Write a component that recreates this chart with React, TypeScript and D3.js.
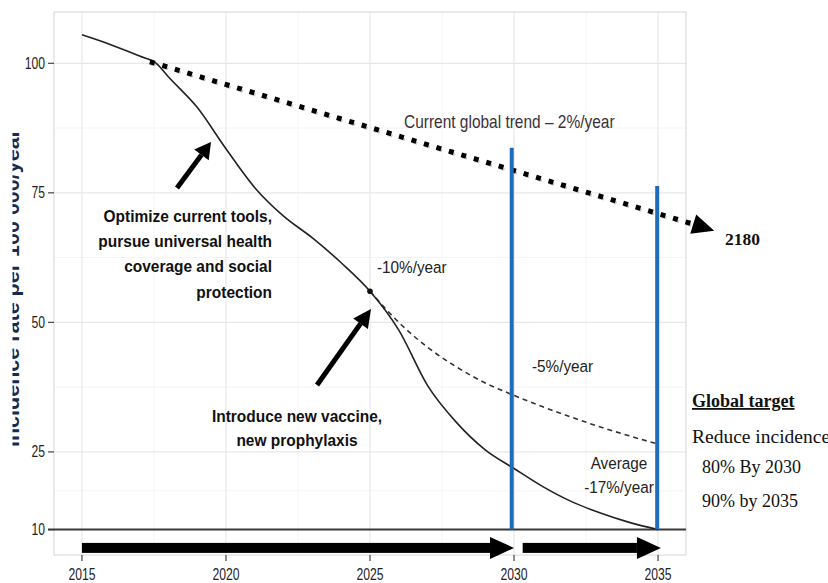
import React from "react";
import * as d3 from "d3";

// ---- data ----
const yTicks = [10, 25, 50, 75, 100];
const yMinor = [17.5, 37.5, 62.5, 87.5];
const xTicks = [2015, 2020, 2025, 2030, 2035];
const xMinor = [2017.5, 2022.5, 2027.5, 2032.5];

const solidYears = [2015, 2016, 2017, 2017.6, 2018, 2019, 2020, 2021, 2022, 2023, 2024, 2025, 2026, 2027, 2028, 2029, 2030, 2031, 2032, 2033, 2034, 2035];
const solidValues = [105.5, 103.6, 101.4, 99.9, 97.4, 91.5, 83.5, 76, 70.5, 66.3, 61.5, 56, 48.5, 37.8, 30.7, 25.4, 21.8, 18.3, 15.4, 13.2, 11.4, 10];

const dashedYears = [2025, 2026, 2027, 2028, 2029, 2030, 2031, 2032, 2033, 2034, 2035];
const dashedValues = [56, 50, 45.2, 41.4, 38.3, 35.9, 33.7, 31.7, 29.8, 28.1, 26.5];

const trendYears = [2017.36, 2036.2];
const trendValues = [100.3, 69.0];
const trendTip = [2036.95, 67.7];

const targetYears = [2029.92, 2034.97];
const targetTops = [83.7, 76.3];

const periodStarts = [2015, 2030.3];
const periodEnds = [2030, 2035.1];

const NARROW = "'Liberation Sans Narrow', 'Liberation Sans', Arial, sans-serif";
const SERIF = "'Liberation Serif', 'DejaVu Serif', serif";

function NText(props: {
  x: number;
  y: number;
  s?: number;
  size: number;
  anchor?: string;
  weight?: string;
  fill?: string;
  children: React.ReactNode;
}) {
  const { x, y, s = 0.9, size, anchor = "start", weight = "normal", fill = "#222", children } = props;
  return (
    <text
      transform={`translate(${x},${y}) scale(${s},1)`}
      textAnchor={anchor}
      fontFamily={NARROW}
      fontWeight={weight}
      fontSize={size}
      fill={fill}
    >
      {children}
    </text>
  );
}

export default function App() {
  const W = 828, H = 583;
  const left = 54, right = 686, top = 12, bottom = 555;
  const x = d3.scaleLinear().domain([2014.03, 2035.97]).range([left, right]);
  const y = d3.scaleLinear().domain([5.1, 109.9]).range([bottom, top]);

  const line = d3
    .line<[number, number]>()
    .x((d) => x(d[0]))
    .y((d) => y(d[1]))
    .curve(d3.curveMonotoneX);

  const solid = solidYears.map((yr, i) => [yr, solidValues[i]] as [number, number]);
  const dashed = dashedYears.map((yr, i) => [yr, dashedValues[i]] as [number, number]);

  // trend line
  const tx1 = x(trendYears[0]), ty1 = y(trendValues[0]);
  const tx2 = x(trendYears[1]), ty2 = y(trendValues[1]);
  const tipX = x(trendTip[0]), tipY = y(trendTip[1]);
  const ang = Math.atan2(tipY - ty2, tipX - tx2);
  const headLen = 22, headW = 10;
  const bx = tipX - headLen * Math.cos(ang), by = tipY - headLen * Math.sin(ang);
  const px = -Math.sin(ang) * headW, py = Math.cos(ang) * headW;

  const arrowPath = (x1: number, y1: number, x2: number, y2: number, hl: number, hw: number) => {
    const a = Math.atan2(y2 - y1, x2 - x1);
    const bx2 = x2 - hl * Math.cos(a), by2 = y2 - hl * Math.sin(a);
    const nx = -Math.sin(a) * hw, ny = Math.cos(a) * hw;
    return { bx: bx2, by: by2, head: `M${x2},${y2}L${bx2 + nx},${by2 + ny}L${bx2 - nx},${by2 - ny}Z` };
  };

  const annot1 = arrowPath(177, 188, 211, 142, 16, 9);
  const annot2 = arrowPath(317, 385, 371, 309, 18, 9);

  const arrowY = y(6.47);

  return (
    <svg width={W} height={H} style={{ display: "block", position: "absolute", left: 0, top: 0, background: "#fff" }}>
      <defs>
        <clipPath id="ytitleclip">
          <rect x={12.5} y={0} width={14} height={H} />
        </clipPath>
      </defs>
      <rect x={0} y={0} width={W} height={H} fill="#fff" />
      {/* grid */}
      {yMinor.map((v) => (
        <line key={"ym" + v} x1={left} x2={right} y1={y(v)} y2={y(v)} stroke="#f4f4f4" strokeWidth={1} />
      ))}
      {xMinor.map((v) => (
        <line key={"xm" + v} x1={x(v)} x2={x(v)} y1={top} y2={bottom} stroke="#f4f4f4" strokeWidth={1} />
      ))}
      {yTicks.map((v) => (
        <line key={"yg" + v} x1={left} x2={right} y1={y(v)} y2={y(v)} stroke="#e8e8e8" strokeWidth={1.2} />
      ))}
      {xTicks.map((v) => (
        <line key={"xg" + v} x1={x(v)} x2={x(v)} y1={top} y2={bottom} stroke="#e8e8e8" strokeWidth={1.2} />
      ))}
      <rect x={left} y={top} width={right - left} height={bottom - top} fill="none" stroke="#d6d6d6" strokeWidth={1} />

      {/* y axis */}
      {yTicks.map((v) => (
        <g key={"yt" + v}>
          <line x1={left - 6} x2={left} y1={y(v)} y2={y(v)} stroke="#444" strokeWidth={1.2} />
          <NText x={left - 9} y={y(v) + 5.5} s={0.76} size={16} anchor="end" fill="#222">
            {v}
          </NText>
        </g>
      ))}
      {/* x axis */}
      {xTicks.map((v) => (
        <g key={"xt" + v}>
          <line x1={x(v)} x2={x(v)} y1={bottom} y2={bottom + 6} stroke="#444" strokeWidth={1.2} />
          <NText x={x(v)} y={580} s={0.76} size={16} anchor="middle" fill="#222">
            {v}
          </NText>
        </g>
      ))}
      {/* y title clipped */}
      <g clipPath="url(#ytitleclip)">
        <text
          transform={`translate(19,${288}) rotate(-90)`}
          textAnchor="middle"
          fontFamily="'Liberation Sans', Arial, sans-serif"
          fontWeight="bold"
          fontSize={20}
          textLength={318}
          lengthAdjust="spacingAndGlyphs"
          fill="#1c2a48"
        >
          Incidence rate per 100 000/year
        </text>
      </g>

      {/* baseline at 10 */}
      <line x1={left - 6} x2={right} y1={y(10)} y2={y(10)} stroke="#3a3a3a" strokeWidth={2} />

      {/* curves */}
      <path d={line(dashed) || ""} fill="none" stroke="#333" strokeWidth={1.6} strokeDasharray="5,4" />
      <path d={line(solid) || ""} fill="none" stroke="#222" strokeWidth={1.6} />
      <circle cx={x(2025)} cy={y(56)} r={2.8} fill="#111" />

      {/* trend line */}
      <line x1={tx1 + 1} y1={ty1 + 2} x2={bx + 1} y2={by + 2} stroke="#999" strokeWidth={3} strokeDasharray="5,8" opacity={0.5} />
      <line x1={tx1} y1={ty1} x2={bx} y2={by} stroke="#000" strokeWidth={5} strokeDasharray="5,8" />
      <path d={`M${tipX},${tipY}L${bx + px},${by + py}L${bx - px},${by - py}Z`} fill="#000" />

      {/* blue target lines */}
      {targetYears.map((yr, i) => (
        <line key={"b" + yr} x1={x(yr)} x2={x(yr)} y1={y(targetTops[i])} y2={y(10)} stroke="#1f6cbd" strokeWidth={4} />
      ))}

      {/* period arrows */}
      {periodStarts.map((s, i) => {
        const x1 = x(s), x2 = x(periodEnds[i]);
        const hl = 24;
        return (
          <g key={"pa" + i}>
            <rect x={x1} y={arrowY - 5} width={x2 - hl - x1} height={10} fill="#000" />
            <path d={`M${x2},${arrowY}L${x2 - hl},${arrowY - 11}L${x2 - hl},${arrowY + 11}Z`} fill="#000" />
          </g>
        );
      })}

      {/* annotation arrows */}
      <line x1={177} y1={188} x2={annot1.bx} y2={annot1.by} stroke="#000" strokeWidth={5} />
      <path d={annot1.head} fill="#000" />
      <line x1={317} y1={385} x2={annot2.bx} y2={annot2.by} stroke="#000" strokeWidth={5} />
      <path d={annot2.head} fill="#000" />

      {/* texts */}
      <NText x={404} y={128} s={0.86} size={18} fill="#3b3038">
        Current global trend – 2%/year
      </NText>
      <text x={725} y={245} fontFamily={SERIF} fontWeight="bold" fontSize={17.5} fill="#111">
        2180
      </text>
      <NText x={272} y={222} s={0.91} size={17} anchor="end" weight="bold" fill="#111">Optimize current tools,</NText>
      <NText x={272} y={247} s={0.91} size={17} anchor="end" weight="bold" fill="#111">pursue universal health</NText>
      <NText x={272} y={272} s={0.91} size={17} anchor="end" weight="bold" fill="#111">coverage and social</NText>
      <NText x={272} y={298} s={0.91} size={17} anchor="end" weight="bold" fill="#111">protection</NText>
      <NText x={297} y={422} s={0.91} size={17} anchor="middle" weight="bold" fill="#111">Introduce new vaccine,</NText>
      <NText x={297} y={446} s={0.91} size={17} anchor="middle" weight="bold" fill="#111">new prophylaxis</NText>
      <NText x={377} y={273} s={0.9} size={17}>-10%/year</NText>
      <NText x={532} y={372} s={0.9} size={17}>-5%/year</NText>
      <NText x={619} y={469} s={0.9} size={17} anchor="middle">Average</NText>
      <NText x={619} y={493} s={0.9} size={17} anchor="middle">-17%/year</NText>
      <g fontFamily={SERIF} fontSize={18} fill="#111">
        <text x={692} y={407} fontWeight="bold" textDecoration="underline">
          Global target
        </text>
        <text x={692} y={443} fontSize={19.5}>Reduce incidence</text>
        <text x={702} y={473}>80% By 2030</text>
        <text x={702} y={507}>90% by 2035</text>
      </g>
    </svg>
  );
}
